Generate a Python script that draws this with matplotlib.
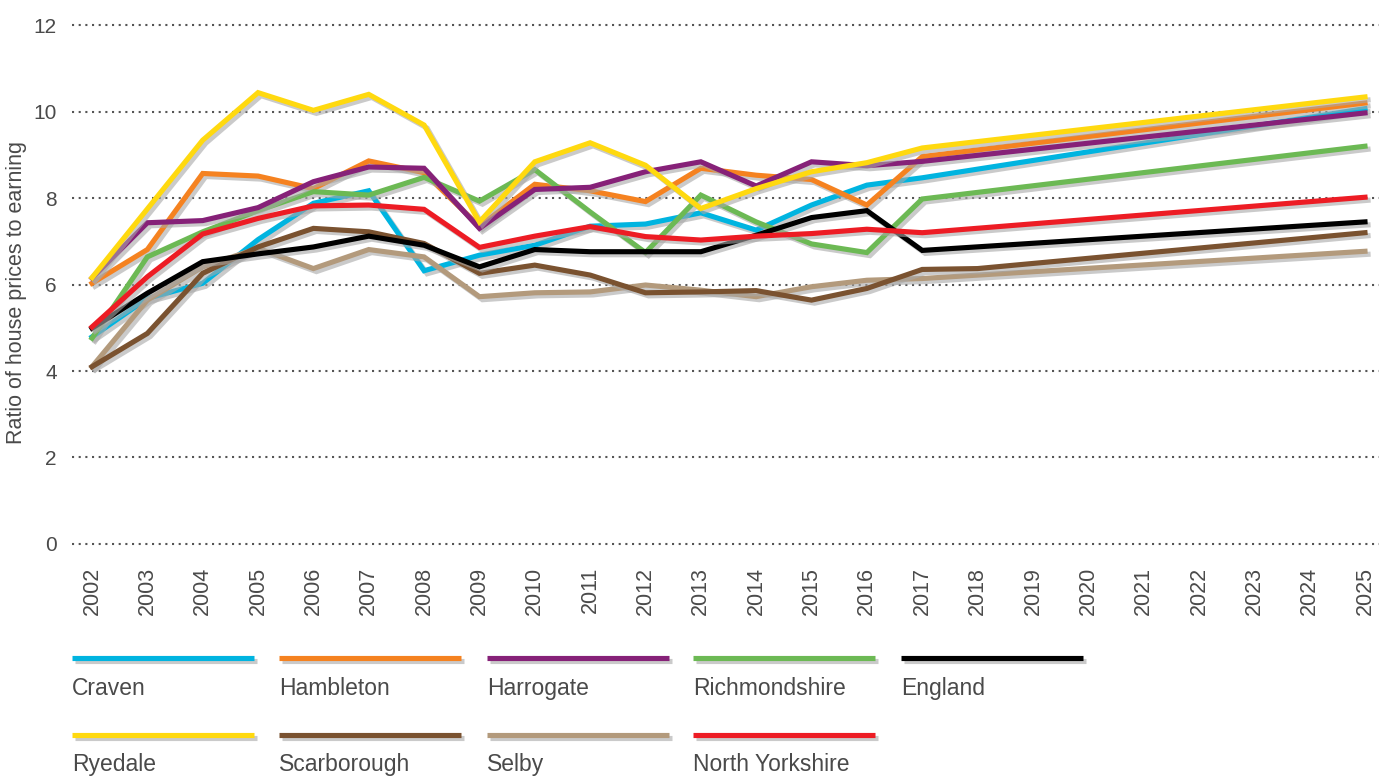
import matplotlib
matplotlib.use("Agg")
import matplotlib.pyplot as plt
import matplotlib.patheffects as pe
from matplotlib.lines import Line2D

plt.rcParams['font.family'] = ['Liberation Sans', 'DejaVu Sans']

# ---- data ----
years = [2002, 2003, 2004, 2005, 2006, 2007, 2008, 2009, 2010, 2011, 2012,
         2013, 2014, 2015, 2016, 2017, 2025]
years_scarborough = [2002, 2003, 2004, 2005, 2006, 2007, 2008, 2009, 2010, 2011,
                     2012, 2013, 2014, 2015, 2016, 2017, 2018, 2025]
tick_years = list(range(2002, 2026))

craven = [4.79, 5.68, 6.03, 7.04, 7.88, 8.17, 6.32, 6.68, 6.91, 7.35, 7.40,
          7.66, 7.26, 7.84, 8.30, 8.47, 10.07]
hambleton = [6.03, 6.81, 8.57, 8.51, 8.22, 8.86, 8.59, 7.35, 8.32, 8.17, 7.92,
             8.69, 8.53, 8.43, 7.84, 8.96, 10.20]
harrogate = [6.15, 7.43, 7.48, 7.78, 8.38, 8.72, 8.69, 7.30, 8.20, 8.25, 8.61,
             8.84, 8.28, 8.84, 8.75, 8.85, 9.97]
richmondshire = [4.76, 6.64, 7.22, 7.71, 8.15, 8.07, 8.48, 7.93, 8.66, 7.68, 6.74,
                 8.07, 7.45, 6.94, 6.74, 7.98, 9.20]
england = [4.99, 5.80, 6.53, 6.71, 6.87, 7.12, 6.91, 6.41, 6.81, 6.76, 6.76,
           6.76, 7.14, 7.55, 7.71, 6.79, 7.45]
ryedale = [6.16, 7.75, 9.34, 10.44, 10.03, 10.40, 9.69, 7.45, 8.84, 9.28, 8.76,
           7.76, 8.22, 8.61, 8.82, 9.16, 10.34]
scarborough = [4.10, 4.87, 6.26, 6.87, 7.30, 7.22, 6.95, 6.26, 6.45, 6.22, 5.81,
               5.83, 5.86, 5.64, 5.91, 6.35, 6.37, 7.20]
selby = [4.10, 5.64, 6.41, 6.84, 6.37, 6.81, 6.64, 5.72, 5.81, 5.83, 5.99,
         5.87, 5.72, 5.95, 6.10, 6.14, 6.77]
north_yorkshire = [5.02, 6.18, 7.17, 7.53, 7.82, 7.84, 7.74, 6.86, 7.12, 7.34, 7.11,
                   7.03, 7.12, 7.18, 7.28, 7.20, 8.02]

series = [
    ("Craven", years, craven, "#00b4e0"),
    ("Hambleton", years, hambleton, "#f58220"),
    ("Richmondshire", years, richmondshire, "#6cb954"),
    ("Selby", years, selby, "#b39a7c"),
    ("Scarborough", years_scarborough, scarborough, "#7a5230"),
    ("England", years, england, "#000000"),
    ("North Yorkshire", years, north_yorkshire, "#ed1c24"),
    ("Harrogate", years, harrogate, "#862178"),
    ("Ryedale", years, ryedale, "#ffd90f"),
]
colors = {name: c for name, _, _, c in series}

legend_rows = [
    ["Craven", "Hambleton", "Harrogate", "Richmondshire", "England"],
    ["Ryedale", "Scarborough", "Selby", "North Yorkshire"],
]

W, H = 1379, 776
TEXT = "#4a4a4a"
fig = plt.figure(figsize=(W / 100, H / 100), dpi=100)
ax = fig.add_axes([72 / W, 1 - 550 / H, 1 - 72 / W, (550 - 20) / H])

shadow = [pe.SimpleLineShadow(offset=(2.2, -2.2), shadow_color="#a8a8a8", alpha=0.6),
          pe.Normal()]

for name, xs, ys, c in series:
    ax.plot(xs, ys, color=c, lw=3.7, solid_joinstyle="miter",
            path_effects=shadow, zorder=3)

x0 = 2002 - 20 / 55.35
x1 = 2025 + 14 / 55.35
ax.set_xlim(x0, x1)
ax.set_ylim(-0.14, 12.12)

for yv in range(0, 13, 2):
    ax.plot([x0, x1], [yv, yv], color="#555555", lw=1.5,
            linestyle=(0, (1, 2.2)), zorder=1, clip_on=False)

ax.set_yticks(range(0, 13, 2))
ax.set_xticks(tick_years)
ax.set_xticklabels([str(y) for y in tick_years], rotation=90, va="top")
ax.tick_params(axis="x", length=0, pad=12, labelsize=15.5, labelcolor=TEXT)
ax.tick_params(axis="y", length=0, pad=11, labelsize=15, labelcolor=TEXT)
for s in ax.spines.values():
    s.set_visible(False)
ax.set_facecolor("none")

fig.text(17 / W, 1 - 292 / H, "Ratio of house prices to earning", rotation=90,
         ha="center", va="center", fontsize=15.5, color=TEXT)

# ---- legend ----
col_x = [72, 279, 487, 693, 901]
line_len = 182
row_line_y = [658, 735]
row_text_y = [695, 771]
for r, row in enumerate(legend_rows):
    for i, name in enumerate(row):
        xs = col_x[i]
        ln = Line2D([xs / W, (xs + line_len) / W],
                    [1 - row_line_y[r] / H, 1 - row_line_y[r] / H],
                    transform=fig.transFigure, color=colors[name], lw=3.7,
                    solid_capstyle="butt", path_effects=shadow)
        fig.add_artist(ln)
        fig.text(xs / W, 1 - row_text_y[r] / H, name, ha="left", va="baseline",
                 fontsize=16.5, color=TEXT)

fig.savefig("out.png", dpi=100)
